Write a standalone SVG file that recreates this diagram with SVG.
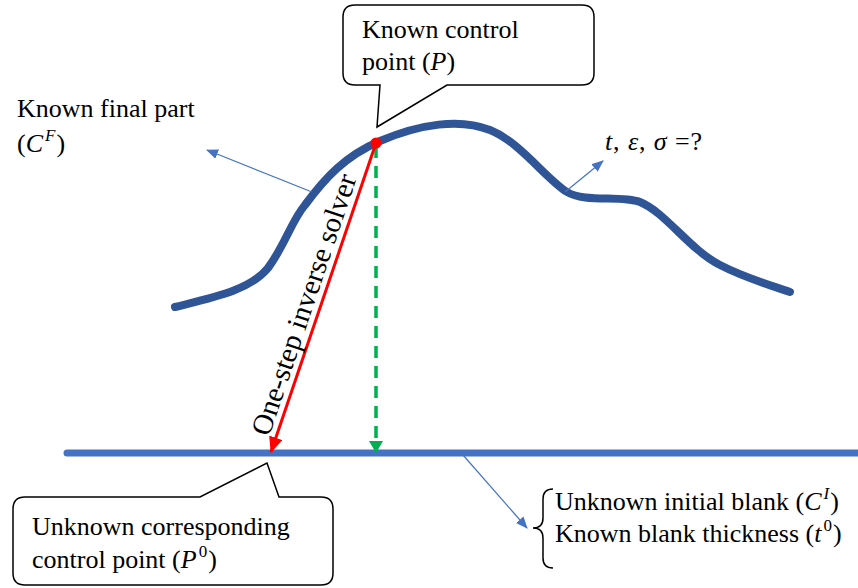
<svg xmlns="http://www.w3.org/2000/svg" width="858" height="588" viewBox="0 0 858 588">
<defs>
<style>
.t{font-family:"Liberation Serif","Times New Roman",serif;font-size:26px;fill:#000}
.i{font-style:italic}
.sup{font-size:17px;font-style:italic}
.thin{stroke:#4472C4;stroke-width:1.2;fill:none}
.callout{fill:#fff;stroke:#000;stroke-width:1.5;stroke-linejoin:miter}
</style>
<marker id="ab" viewBox="0 0 12 10" refX="11" refY="5" markerWidth="12" markerHeight="10" markerUnits="userSpaceOnUse" orient="auto">
<path d="M0,0 L12,5 L0,10 Z" fill="#4472C4"/>
</marker>
<marker id="ar" viewBox="0 0 16 14" refX="15" refY="7" markerWidth="16" markerHeight="14" markerUnits="userSpaceOnUse" orient="auto">
<path d="M0,0 L16,7 L0,14 Z" fill="#FF0000"/>
</marker>
<marker id="ag" viewBox="0 0 12 14" refX="11" refY="7" markerWidth="12" markerHeight="14" markerUnits="userSpaceOnUse" orient="auto">
<path d="M0,0 L12,7 L0,14 Z" fill="#00B050"/>
</marker>
</defs>
<rect width="858" height="588" fill="#fff"/>

<g id="blank">
<line x1="67" y1="453" x2="858" y2="453" stroke="#4472C4" stroke-width="7" stroke-linecap="round"/>
</g>

<g id="final-part">
<path d="M175,307 C215,297 250,290 268,268 C285,245 292,220 305,205 C325,178 345,156 380,141 C420,124 460,118 490,130 C520,142 545,178 567,192 C585,203 620,195 640,202 C665,212 690,250 720,265 C745,278 770,285 790,292" fill="none" stroke="#2F5597" stroke-width="8" stroke-linecap="round"/>
</g>

<g id="connectors">
<line class="thin" x1="312" y1="192" x2="207" y2="150" marker-end="url(#ab)"/>
<line class="thin" x1="565" y1="192" x2="603" y2="161" marker-end="url(#ab)"/>
<line class="thin" x1="463" y1="455" x2="527" y2="528" marker-end="url(#ab)"/>
<line x1="376" y1="146" x2="376" y2="452" stroke="#00B050" stroke-width="3.5" stroke-dasharray="12,8" marker-end="url(#ag)"/>
<line x1="376" y1="143" x2="271" y2="452" stroke="#FF0000" stroke-width="3" marker-end="url(#ar)"/>
</g>

<g id="control-point">
<circle cx="376" cy="143" r="5.5" fill="#FF0000"/>
</g>

<g id="solver-label">
<text class="t" style="font-size:29px" text-anchor="middle" transform="translate(313,307.5) rotate(-71.3)">One-step inverse solver</text>
</g>

<g id="callout-P">
<path class="callout" d="M355,5 H582 Q594,5 594,17 V73 Q594,85 582,85 H447 L377,127 L380,85 H355 Q343,85 343,73 V17 Q343,5 355,5 Z"/>
<text class="t" x="362" y="38">Known control</text>
<text class="t" x="362" y="70">point (<tspan class="i">P</tspan>)</text>
</g>

<g id="callout-P0">
<path class="callout" d="M25,497 H200 L267,463 L279,497 H321 Q333,497 333,509 V573 Q333,585 321,585 H25 Q13,585 13,573 V509 Q13,497 25,497 Z"/>
<text class="t" x="32" y="535">Unknown corresponding</text>
<text class="t" x="32" y="568">control point (<tspan class="i">P</tspan><tspan class="sup" style="font-style:normal" dx="2" dy="-11">0</tspan><tspan dx="1" dy="11">)</tspan></text>
</g>

<g id="label-final">
<text class="t" x="17" y="117">Known final part</text>
<text class="t" x="17" y="152">(<tspan class="i">C</tspan><tspan class="sup" dx="2" dy="-11">F</tspan><tspan dx="1" dy="11">)</tspan></text>
</g>

<g id="label-unknowns">
<text class="t" x="605" y="150" textLength="97" lengthAdjust="spacing"><tspan class="i">t</tspan>, <tspan class="i">ε</tspan>, <tspan class="i">σ</tspan> =?</text>
</g>

<g id="label-blank">
<path d="M553,489 Q543,489 543,499 L543,518 Q543,528 533,528 Q543,528 543,538 L543,558 Q543,568 553,568" fill="none" stroke="#000" stroke-width="1.5"/>
<text class="t" x="555" y="510">Unknown initial blank (<tspan class="i">C</tspan><tspan class="sup" dx="2" dy="-11">I</tspan><tspan dx="1" dy="11">)</tspan></text>
<text class="t" x="555" y="542">Known blank thickness (<tspan class="i">t</tspan><tspan class="sup" style="font-style:normal" dx="2" dy="-11">0</tspan><tspan dx="1" dy="11">)</tspan></text>
</g>
</svg>
